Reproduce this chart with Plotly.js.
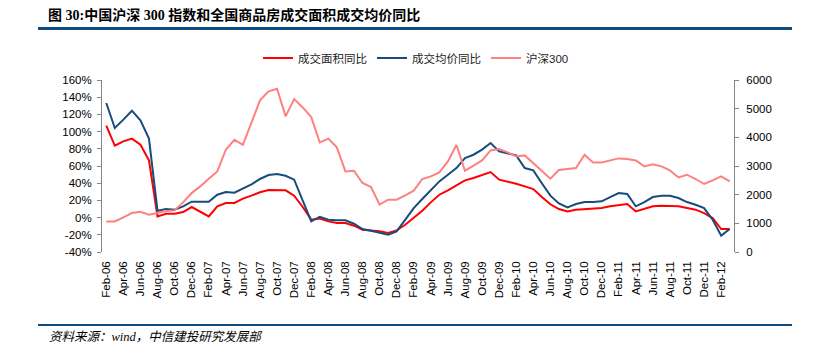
<!DOCTYPE html>
<html>
<head>
<meta charset="utf-8">
<script src="https://cdn.plot.ly/plotly-3.0.1.min.js"></script>
<style>html,body{margin:0;padding:0;background:#fff;}#chart{width:834px;height:362px;}</style>
</head>
<body>
<div id="chart"></div>
<script>
// ---- data ----
var months = [
  'Feb-06','Mar-06','Apr-06','May-06','Jun-06','Jul-06','Aug-06','Sep-06','Oct-06','Nov-06','Dec-06',
  'Jan-07','Feb-07','Mar-07','Apr-07','May-07','Jun-07','Jul-07','Aug-07','Sep-07','Oct-07','Nov-07','Dec-07',
  'Jan-08','Feb-08','Mar-08','Apr-08','May-08','Jun-08','Jul-08','Aug-08','Sep-08','Oct-08','Nov-08','Dec-08',
  'Jan-09','Feb-09','Mar-09','Apr-09','May-09','Jun-09','Jul-09','Aug-09','Sep-09','Oct-09','Nov-09','Dec-09',
  'Jan-10','Feb-10','Mar-10','Apr-10','May-10','Jun-10','Jul-10','Aug-10','Sep-10','Oct-10','Nov-10','Dec-10',
  'Jan-11','Feb-11','Mar-11','Apr-11','May-11','Jun-11','Jul-11','Aug-11','Sep-11','Oct-11','Nov-11','Dec-11',
  'Jan-12','Feb-12','Mar-12'
];
// 成交面积同比 (%)
var areaYoY = [
  106.9, 83.6, 88.6, 91.8, 84.8, 66.6, 1.4, 4.5, 4.5, 6.5, 12.3,
  6.9, 1.4, 13.1, 17.0, 17.0, 22.0, 25.5, 29.4, 32.1, 32.1, 31.7, 25.5,
  12.3, -2.4, -1.0, -4.4, -6.3, -6.3, -9.4, -14.1, -14.8, -16.0, -17.9, -14.8,
  -8.3, -0.5, 8.0, 17.7, 26.6, 31.7, 37.1, 43.3, 46.0, 49.1, 53.0, 44.1,
  42.1, 39.4, 36.3, 33.2, 24.0, 15.5, 10.0, 7.2, 9.2, 10.0, 10.0, 11.1,
  13.1, 14.6, 15.8, 7.2, 10.4, 13.1, 13.8, 13.8, 13.1, 11.1, 9.2, 5.3,
  -0.5, -13.3, -13.3
];
// 成交均价同比 (%)
var priceYoY = [
  133.2, 104.2, 113.9, 124.3, 113.1, 91.8, 8.0, 10.0, 9.2, 13.1, 18.5,
  18.5, 18.5, 26.6, 29.7, 29.0, 33.6, 38.7, 44.9, 49.5, 50.7, 48.7, 44.1,
  19.7, -4.4, 1.0, -2.4, -3.2, -3.2, -7.1, -13.3, -15.2, -17.2, -19.9, -16.0,
  -1.7, 11.1, 21.6, 31.3, 42.1, 49.9, 57.6, 69.3, 73.1, 79.0, 86.7, 77.0,
  75.1, 72.4, 57.6, 54.9, 40.0, 25.5, 16.5, 11.9, 15.8, 18.1, 18.1, 18.9,
  23.9, 28.6, 27.4, 13.1, 18.1, 23.9, 25.5, 25.5, 22.8, 18.1, 15.0, 11.1,
  -2.4, -21.0, -13.3
];
// 沪深300 (index points, right axis)
var csi300 = [
  1067, 1067, 1207, 1358, 1404, 1300, 1358, 1428, 1451, 1730, 2055,
  2288, 2555, 2811, 3567, 3915, 3741, 4497, 5288, 5602, 5695, 4730, 5334,
  5043, 4706, 3820, 3955, 3650, 2812, 2835, 2407, 2267, 1650, 1824, 1824,
  1975, 2138, 2546, 2637, 2777, 3160, 3732, 2836, 3010, 3195, 3544, 3593,
  3474, 3335, 3369, 3104, 2840, 2557, 2860, 2895, 2930, 3394, 3125, 3125,
  3195, 3265, 3242, 3195, 2986, 3056, 2986, 2846, 2602, 2696, 2546, 2372,
  2497, 2637, 2463
];
var seriesNames = ['成交面积同比', '成交均价同比', '沪深300'];
var xTickLabels = months.filter(function (m, i) { return i % 2 === 0; });
var xBoundaryTicks = months.slice(0, 72).map(function (m, i) { return i + 1.5; }).filter(function (v, i) { return i % 2 === 0; });
var leftTickVals = [-40, -20, 0, 20, 40, 60, 80, 100, 120, 140, 160];
var leftTickText = ['-40%', '-20%', '0%', '20%', '40%', '60%', '80%', '100%', '120%', '140%', '160%'];
var rightTickVals = [0, 1000, 2000, 3000, 4000, 5000, 6000];
var titleText = '图 30:中国沪深 300 指数和全国商品房成交面积成交均价同比';
var sourceText = '资料来源：wind，中信建投研究发展部';

// ---- chart ----
var W = 834, H = 362, ML = 102, MR = 100, MT = 80, MB = 110;
var PW = W - ML - MR, PH = H - MT - MB;
function px(x) { return (x - ML) / PW; }
function py(y) { return (H - MB - y) / PH; }

var sans = '"Liberation Sans", Arial, "Noto Sans CJK SC", sans-serif';
var serif = '"Liberation Serif", "Times New Roman", "Noto Sans CJK SC", serif';
var gray = '#868686';

var traces = [
  { x: months, y: areaYoY, name: seriesNames[0], type: 'scatter', mode: 'lines',
    line: { color: '#FF0000', width: 2 }, xaxis: 'x', yaxis: 'y' },
  { x: months, y: priceYoY, name: seriesNames[1], type: 'scatter', mode: 'lines',
    line: { color: '#174C7C', width: 2 }, xaxis: 'x', yaxis: 'y' },
  { x: months, y: csi300, name: seriesNames[2], type: 'scatter', mode: 'lines',
    line: { color: '#FF8080', width: 2 }, xaxis: 'x', yaxis: 'y2' }
];

var layout = {
  width: W, height: H,
  margin: { l: ML, r: MR, t: MT, b: MB, pad: 0 },
  paper_bgcolor: '#fff', plot_bgcolor: '#fff',
  showlegend: true,
  title: {
    text: '<b>' + titleText + '</b>',
    font: { family: serif, size: 14, color: '#000' },
    xref: 'container', yref: 'container',
    x: 48 / W, xanchor: 'left', y: 1 - 15 / H, yanchor: 'middle'
  },
  legend: {
    orientation: 'h', x: px(258), xanchor: 'left', y: py(58), yanchor: 'middle',
    font: { family: sans, size: 11.5, color: '#222' },
    bgcolor: 'rgba(0,0,0,0)', borderwidth: 0, itemwidth: 30
  },
  xaxis: {
    type: 'category', range: [-0.5, months.length - 0.5],
    tickmode: 'array', tickvals: xTickLabels, ticktext: xTickLabels,
    tickangle: -90, ticks: '', showline: false, showgrid: false, zeroline: false,
    tickfont: { family: sans, size: 11.5, color: '#000' },
    ticklabelstandoff: 6, fixedrange: true
  },
  xaxis2: {
    overlaying: 'x', anchor: 'free', position: 0.2,
    type: 'linear', range: [-0.5, months.length - 0.5],
    tickmode: 'array', tickvals: xBoundaryTicks,
    ticks: 'outside', ticklen: 4, tickwidth: 1, tickcolor: gray,
    showticklabels: false, showline: true, linecolor: gray, linewidth: 1,
    showgrid: false, zeroline: false
  },
  yaxis: {
    range: [-40, 160], tickmode: 'array', tickvals: leftTickVals, ticktext: leftTickText,
    ticks: 'outside', ticklen: 4, tickcolor: gray, showline: true, linecolor: gray,
    showgrid: false, zeroline: false,
    tickfont: { family: sans, size: 11.5, color: '#000' }, ticklabelstandoff: 3
  },
  yaxis2: {
    range: [0, 6000], overlaying: 'y', side: 'right', anchor: 'x',
    tickmode: 'array', tickvals: rightTickVals,
    ticks: 'outside', ticklen: 4, tickcolor: gray, showline: true, linecolor: gray,
    showgrid: false, zeroline: false,
    tickfont: { family: sans, size: 11.5, color: '#000' }, ticklabelstandoff: 5
  },
  shapes: [
    { type: 'line', xref: 'paper', yref: 'paper', x0: px(38), x1: px(792), y0: py(28.5), y1: py(28.5),
      line: { color: '#0E4C80', width: 3 } },
    { type: 'line', xref: 'paper', yref: 'paper', x0: px(38), x1: px(792), y0: py(325), y1: py(325),
      line: { color: '#0E4C80', width: 2 } }
  ],
  annotations: [
    { text: '<i>' + sourceText + '</i>', xref: 'paper', yref: 'paper', x: px(47), y: py(337),
      xanchor: 'left', yanchor: 'middle', showarrow: false,
      font: { family: serif, size: 12.5, color: '#000' } }
  ]
};

Plotly.newPlot('chart', traces, layout, { displayModeBar: false, staticPlot: true });
</script>
</body>
</html>
